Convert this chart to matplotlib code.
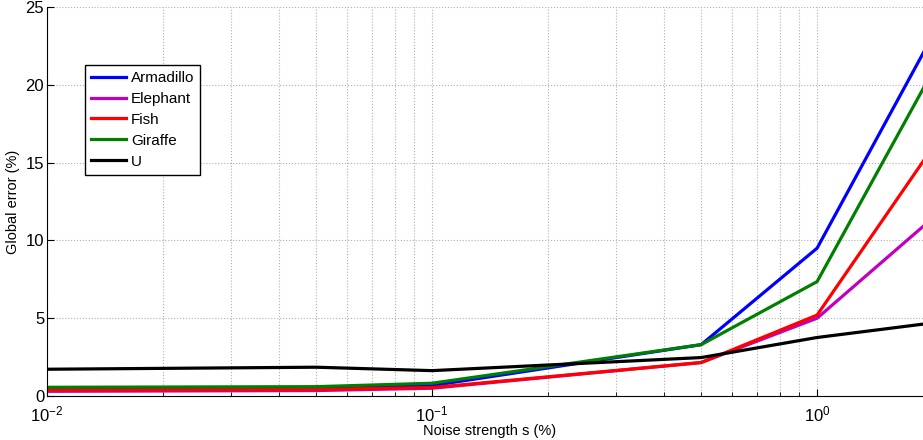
import matplotlib
matplotlib.use("Agg")
import matplotlib.pyplot as plt

plt.rcParams['font.family'] = ['Liberation Sans', 'DejaVu Sans']

noise = [0.01, 0.05, 0.1, 0.5, 1.0, 2.0]

armadillo = [0.45, 0.5, 0.67, 3.3, 9.5, 23.2]
elephant = [0.3, 0.35, 0.5, 2.15, 5.0, 11.45]
fish = [0.38, 0.42, 0.54, 2.15, 5.2, 16.0]
giraffe = [0.56, 0.6, 0.82, 3.3, 7.35, 20.9]
u_shape = [1.72, 1.85, 1.63, 2.47, 3.76, 4.7]

names = ['Armadillo', 'Elephant', 'Fish', 'Giraffe', 'U']
series = [armadillo, elephant, fish, giraffe, u_shape]
colors = ['#0000ff', '#bf00bf', '#ff0000', '#007f00', '#000000']

fig = plt.figure(figsize=(9.23, 4.4), dpi=100)
ax = fig.add_axes([47 / 923, 0.1, 886 / 923, 389 / 440])

for name, vals, col in zip(names, series, colors):
    ax.plot(noise, vals, color=col, linewidth=2.3, label=name)

ax.set_xscale('log')
ax.set_xlim(0.01, 2)
ax.set_ylim(0, 25)
ax.set_yticks([0, 5, 10, 15, 20, 25])

ax.grid(True, which='major', linestyle=':', color='#b0b0b0', linewidth=0.8)
ax.grid(True, which='minor', axis='x', linestyle=':', color='#b0b0b0', linewidth=0.8)

ax.spines['top'].set_visible(False)
ax.spines['right'].set_visible(False)
ax.tick_params(which='both', direction='in', labelsize=12, top=False, right=False)
ax.tick_params(axis='y', pad=2)
ax.tick_params(axis='x', pad=6)
ax.tick_params(which='major', length=5)
ax.tick_params(which='minor', length=3)

ax.set_xlabel('Noise strength s (%)', fontsize=10.5, labelpad=0)
ax.set_ylabel('Global error (%)', fontsize=10.5, labelpad=4)

leg = ax.legend(loc='upper left', bbox_to_anchor=(0.043, 0.851), fontsize=11,
                fancybox=False, framealpha=1, edgecolor='black',
                handlelength=2.3, handletextpad=0.3, borderaxespad=0,
                labelspacing=0.45)
leg.get_frame().set_linewidth(1.0)

fig.savefig('out.png', dpi=100)
